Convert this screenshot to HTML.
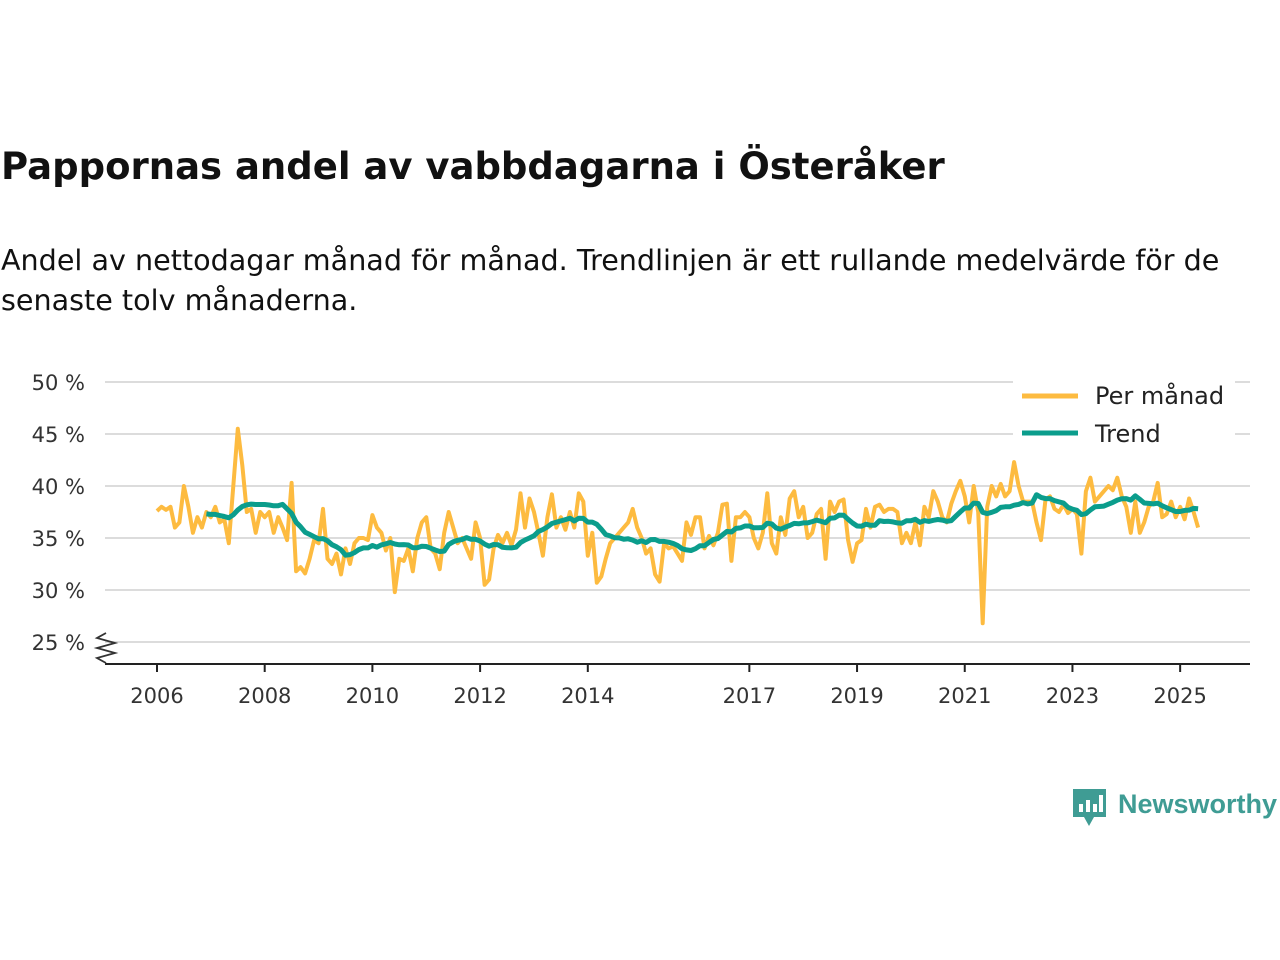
<!DOCTYPE html>
<html><head><meta charset="utf-8"><style>
body{margin:0;background:#fff;font-family:"Liberation Sans","DejaVu Sans",sans-serif;}
#wrap{position:relative;width:1280px;height:960px;overflow:hidden;}
h1{position:absolute;left:1px;top:145px;margin:0;font-size:37px;font-weight:bold;color:#111;font-family:"DejaVu Sans",sans-serif;letter-spacing:0px}
p{position:absolute;left:1px;top:240px;margin:0;font-size:28.6px;line-height:40px;color:#111;width:1270px;font-family:"DejaVu Sans",sans-serif;font-weight:normal}
</style></head><body><div id="wrap">
<h1>Pappornas andel av vabbdagarna i Österåker</h1>
<p>Andel av nettodagar månad för månad. Trendlinjen är ett rullande medelvärde för de senaste tolv månaderna.</p>
<svg id="chart" width="1280" height="960" style="position:absolute;left:0;top:0"></svg>
</div>
<script>
const yTicks=[25,30,35,40,45,50];
const yTickLabels=["25 %","30 %","35 %","40 %","45 %","50 %"];
const xTicks=[2006,2008,2010,2012,2014,2017,2019,2021,2023,2025];
const startYear=2006;
const monthly=[
37.6,38,37.7,38,36,36.5,40,38,35.5,37,36,37.5,
37,38,36.5,36.8,34.5,40,45.5,42,37.5,37.8,35.5,37.5,
37,37.5,35.5,37,36,34.8,40.3,31.8,32.2,31.6,33,34.8,
34.5,37.8,33,32.5,33.5,31.5,34,32.5,34.5,35,35,34.8,
37.2,36,35.5,33.8,35,29.8,33,32.8,34,31.8,35,36.5,
37,34,33.5,32,35.5,37.5,36,34.5,35,34,33,36.5,
35,30.5,31,34,35.3,34.5,35.5,34.3,35.8,39.3,36,38.8,
37.5,35.5,33.3,37,39.2,36,37,35.8,37.5,36,39.3,38.5,
33.3,35.5,30.7,31.3,33,34.5,35,35.5,36,36.5,37.8,36,
35,33.5,34,31.5,30.8,34.5,34,34.2,33.5,32.8,36.5,35.3,
37,37,34,35.2,34.3,35.5,38.2,38.3,32.8,37,37,37.5,
37,35,34,35.5,39.3,34.5,33.5,37,35.3,38.8,39.5,37,
38,35,35.5,37.3,37.8,33,38.5,37.5,38.5,38.7,34.8,32.7,
34.5,34.8,37.8,36,38,38.2,37.5,37.8,37.8,37.5,34.5,35.5,
34.5,36.5,34.3,38,37,39.5,38.5,37,36.5,38.3,39.5,40.5,
39,36.5,40,37.5,26.8,38,40,39,40.2,39,39.5,42.3,
40,38.5,38.5,38.5,36.5,34.8,38.7,39,37.8,37.5,38.2,37.4,
37.8,37.3,33.5,39.5,40.8,38.5,39,39.5,40,39.6,40.8,39,
38,35.5,38.5,35.5,36.5,38,38.5,40.3,37,37.3,38.5,37,
38,36.8,38.8,37.5,36];
const NS="http://www.w3.org/2000/svg";
const svg=document.getElementById('chart');
const X=t=>157+(t-2006)*53.85;
const Y=v=>382+(50-v)*10.4;
function mk(tag,attrs,parent){const e=document.createElementNS(NS,tag);for(const k in attrs)e.setAttribute(k,attrs[k]);(parent||svg).appendChild(e);return e;}
yTicks.forEach((v,i)=>{
 const g=mk('line',{x1:105,x2:1250,y1:Y(v),y2:Y(v),stroke:'#dcdcdc','stroke-width':2});
 
 
 const t=mk('text',{x:85,y:Y(v)+8,'text-anchor':'end','font-size':21,fill:'#333','font-family':'DejaVu Sans, sans-serif'});
 t.textContent=yTickLabels[i];
 
 
});
const ax=mk('line',{x1:105,x2:1250,y1:664,y2:664,stroke:'#222','stroke-width':2});


const br=mk('path',{d:'M106 633 L97 638 L115 643 L97 648 L115 653 L97 658 L106 663',fill:'none',stroke:'#333','stroke-width':1.8});


xTicks.forEach(yr=>{
 const tk=mk('line',{x1:X(yr),x2:X(yr),y1:664,y2:672,stroke:'#222','stroke-width':2});
 
 
 const t=mk('text',{x:X(yr),y:703,'text-anchor':'middle','font-size':21,fill:'#333','font-family':'DejaVu Sans, sans-serif'});
 t.textContent=yr;
 
 
});
const tm=i=>startYear+i/12;
const mp=monthly.map((v,i)=>X(tm(i)).toFixed(1)+','+Y(v).toFixed(1)).join(' ');
const ml=mk('polyline',{points:mp,fill:'none',stroke:'#fdbb40','stroke-width':4,'stroke-linejoin':'round'});


const tp=[];
for(let i=11;i<monthly.length;i++){let s=0;for(let j=i-11;j<=i;j++)s+=monthly[j];tp.push(X(tm(i)).toFixed(1)+','+Y(s/12).toFixed(1));}
const tl=mk('polyline',{points:tp.join(' '),fill:'none',stroke:'#0b9d8c','stroke-width':5,'stroke-linejoin':'round'});


const lg=mk('g',{});


mk('rect',{x:1013,y:378,width:222,height:74,fill:'#fff'},lg);
const l1=mk('line',{x1:1022,x2:1078,y1:396,y2:396,stroke:'#fdbb40','stroke-width':5},lg);


const t1=mk('text',{x:1095,y:404,'font-size':24,fill:'#222','font-family':'DejaVu Sans, sans-serif'},lg);t1.textContent='Per månad';


const l2=mk('line',{x1:1022,x2:1078,y1:433,y2:433,stroke:'#0b9d8c','stroke-width':5},lg);


const t2=mk('text',{x:1095,y:442,'font-size':24,fill:'#222','font-family':'DejaVu Sans, sans-serif'},lg);t2.textContent='Trend';


const logo=mk('g',{});


mk('path',{d:'M1073 789 h33 v28 h-12 l-5 9 l-5 -9 h-11 z',fill:'#3f9c94'},logo);
mk('rect',{x:1079,y:804,width:4,height:8,fill:'#fff'},logo);
mk('rect',{x:1086,y:800,width:4,height:12,fill:'#fff'},logo);
mk('rect',{x:1093,y:804,width:4,height:8,fill:'#fff'},logo);
mk('rect',{x:1099,y:795,width:4,height:17,fill:'#fff'},logo);
const lt=mk('text',{x:1118,y:813,'font-size':27,'font-weight':'bold',fill:'#3f9c94','font-family':'Liberation Sans, sans-serif'},logo);lt.textContent='Newsworthy';


</script></body></html>
